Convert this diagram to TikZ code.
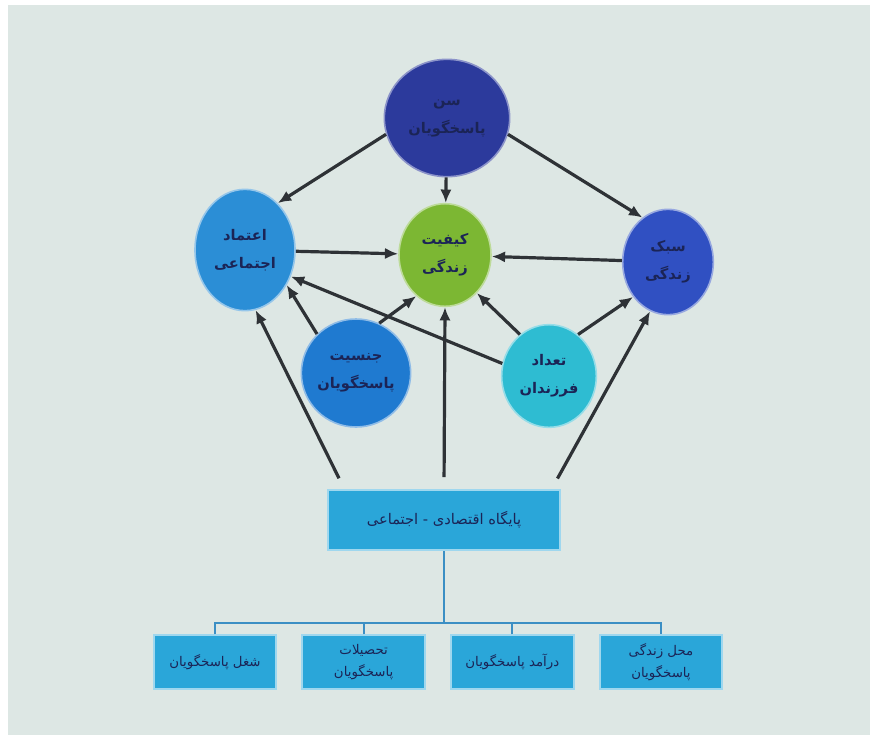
\documentclass[tikz,border=0pt]{standalone}
\usepackage{fontspec}
\usetikzlibrary{shapes.geometric,positioning,arrows.meta}
\TeXXeTstate=1
\newfontfamily\fafont[Script=Arabic]{DejaVu Sans}
\newcommand{\fatext}[1]{\beginR #1\endR}
\definecolor{bgcol}{HTML}{DDE7E4}
\definecolor{agecol}{HTML}{2C3A9C}
\definecolor{trustcol}{HTML}{2B8ED6}
\definecolor{qolcol}{HTML}{7CB733}
\definecolor{stylecol}{HTML}{3050C2}
\definecolor{gendercol}{HTML}{1F7AD0}
\definecolor{kidscol}{HTML}{2EBCD2}
\definecolor{boxcol}{HTML}{2AA6D9}
\definecolor{arrowcol}{HTML}{2E3236}
\definecolor{txtcol}{HTML}{1B2456}
\definecolor{buscol}{HTML}{3B8FC4}

\begin{document}
\begin{tikzpicture}[x=0.75pt,y=-0.75pt]
    \tikzstyle{var}=[ellipse, line width=1.2pt, align=center, text=txtcol, inner sep=0pt,
                     font=\fafont\bfseries\fontsize{11}{21}\selectfont]
    \tikzstyle{connect}=[-{Latex[length=10pt,width=8.5pt]}, line width=2.4pt, draw=arrowcol]
    \tikzstyle{box}=[rectangle, fill=boxcol, draw=boxcol!45!white, line width=1.5pt,
                     align=center, text=txtcol, font=\fafont\fontsize{10}{16}\selectfont]
    \tikzstyle{tree}=[line width=1.5pt, draw=buscol]

      % background
      \fill[white] (0,0) rectangle (881,747);
      \fill[bgcol] (8,5) rectangle (870,735);

      \node[var, fill=agecol, draw=agecol!55!white, minimum width=94pt, minimum height=88pt]
        (age) at (447,118) {\fatext{سن}\\\fatext{پاسخگویان}};
      \node[var, fill=qolcol, draw=qolcol!50!white, minimum width=69pt, minimum height=77pt]
        (qol) at (445,255) {\fatext{کیفیت}\\\fatext{زندگی}};
      \node[var, fill=trustcol, draw=trustcol!50!white, minimum width=75pt, minimum height=91pt]
        (trust) at (245,250) {\fatext{اعتماد}\\\fatext{اجتماعی}};
      \node[var, fill=stylecol, draw=stylecol!50!white, minimum width=68pt, minimum height=79pt]
        (style) at (668,262) {\fatext{سبک}\\\fatext{زندگی}};
      \node[var, fill=gendercol, draw=gendercol!50!white, minimum width=82pt, minimum height=81pt]
        (gender) at (356,373) {\fatext{جنسیت}\\\fatext{پاسخگویان}};
      \node[var, fill=kidscol, draw=kidscol!50!white, minimum width=71pt, minimum height=77pt]
        (kids) at (549,376) {\fatext{تعداد}\\\fatext{فرزندان}};

      \node[box, minimum width=174pt, minimum height=45pt, font=\fafont\fontsize{11}{16}\selectfont]
        (ses) at (444,520) {\fatext{پایگاه اقتصادی - اجتماعی}};

      \node[box, minimum width=92pt, minimum height=40pt] (job) at (215,662)
        {\fatext{شغل پاسخگویان}};
      \node[box, minimum width=92pt, minimum height=40pt] (edu) [right=18pt of job]
        {\fatext{تحصیلات}\\\fatext{پاسخگویان}};
      \node[box, minimum width=92pt, minimum height=40pt] (income) [right=18pt of edu]
        {\fatext{درآمد پاسخگویان}};
      \node[box, minimum width=92pt, minimum height=40pt] (home) [right=18pt of income]
        {\fatext{محل زندگی}\\\fatext{پاسخگویان}};

      \path
        (age.195) edge [connect] (trust.55)
        (age) edge [connect] (qol)
        (age.345) edge [connect] (style.120)
        (trust) edge [connect] (qol)
        (style) edge [connect] (qol)
        (gender.135) edge [connect] (trust.-40)
        (gender.65) edge [connect] (qol.235)
        (kids.165) edge [connect] (trust.-30)
        (kids.125) edge [connect] (qol.-50)
        (kids.55) edge [connect] (style.225);
      \path[shorten <=9pt]
        ([xshift=13pt]ses.north west) edge [connect] (trust.-80)
        (ses.north) edge [connect] (qol.south)
        ([xshift=-7pt]ses.north east) edge [connect] (style.-110);

      % tree below the status box
      \coordinate (bus) at (444,623);
      \draw[tree] (ses.south) -- (bus);
      \draw[tree] (job.north) -- (job.north |- bus) -| (home.north);
      \draw[tree] (edu.north) -- (edu.north |- bus);
      \draw[tree] (income.north) -- (income.north |- bus);
    \end{tikzpicture}
\end{document}
